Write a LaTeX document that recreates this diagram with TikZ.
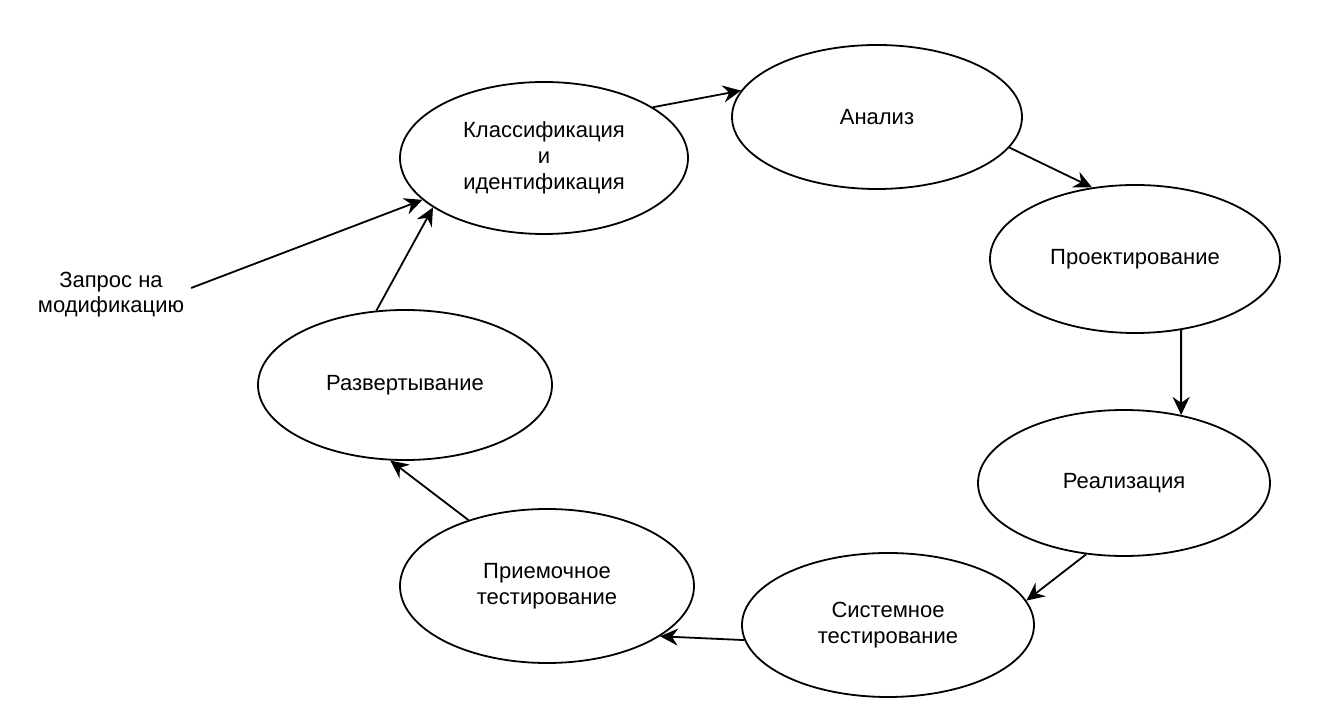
\documentclass[tikz,border=0pt]{standalone}
\usepackage{fontspec}
\setmainfont{Liberation Sans}
\usetikzlibrary{shapes.geometric,arrows.meta}
\tikzset{
  stage/.style={draw, ellipse, line width=0.9pt, inner sep=0pt, align=center,
    font=\fontsize{11}{13}\selectfont},
  flow/.style={-{Stealth[length=9pt,width=8.5pt,inset=3pt]}, line width=0.9pt}
}
\begin{document}
\begin{tikzpicture}[x=0.5pt,y=-0.5pt]
    \useasboundingbox (0,0) rectangle (1319,715);
    \node[stage, minimum width=144pt, minimum height=76pt] (klass) at (544,158) {Классификация\\и\\идентификация};
    \node[stage, minimum width=145pt, minimum height=72pt] (analiz) at (877,117) {Анализ};
    \node[stage, minimum width=145pt, minimum height=74pt] (proekt) at (1135,259) {Проектирование};
    \node[stage, minimum width=146pt, minimum height=73pt] (realiz) at (1124,483) {Реализация};
    \node[stage, minimum width=146pt, minimum height=72pt] (sistem) at (888,625) {Системное\\тестирование};
    \node[stage, minimum width=147pt, minimum height=77pt] (priem) at (547,586) {Приемочное\\тестирование};
    \node[stage, minimum width=147pt, minimum height=75pt] (razvert) at (405,385) {Развертывание};
 \node[align=center, font=\fontsize{11}{12.5}\selectfont] (zapros) at (111,295) {Запрос на\\модификацию};
%    cycle
    \draw[flow] (klass.25) -- (analiz.169);
    \draw[flow] (analiz.-13) -- (proekt.121);
    \draw[flow] (proekt.-57) -- (realiz.50);
  \draw[flow] (realiz.-118) -- (sistem.10);
  \draw[flow] (sistem.-174) -- (priem.-24);
    \draw[flow] (priem.140) -- (razvert.-101);
    \draw[flow] (razvert.111) -- (klass.-156);
% request
    \draw[flow] (zapros.5) -- (klass.-161);
\end{tikzpicture}
\end{document}
